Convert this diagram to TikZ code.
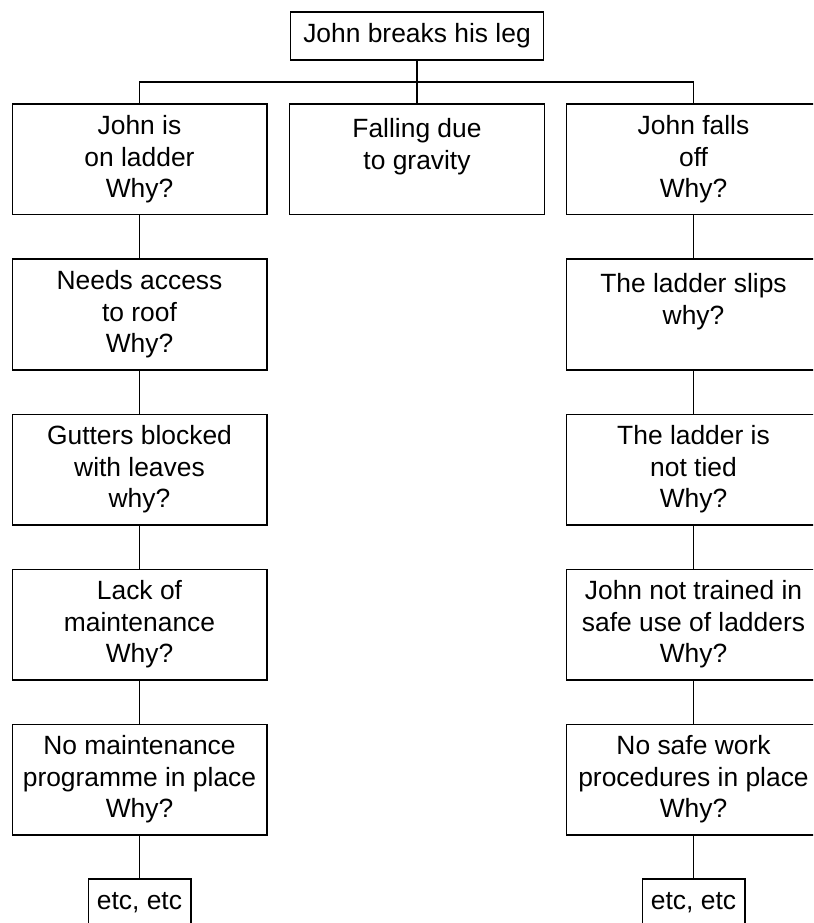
\documentclass[tikz,border=0pt]{standalone}
\usepackage{fontspec}
\setmainfont{Liberation Sans}
\usepackage{tikz}
\usetikzlibrary{positioning}

\tikzset{
  cause/.style={draw,line width=1pt,align=center,inner sep=0pt,
    minimum width=191pt,minimum height=83pt},
  headbox/.style={draw,line width=1pt,inner sep=0pt,
    minimum width=190pt,minimum height=36pt},
  etcbox/.style={draw,line width=1pt,inner sep=0pt,
    minimum width=77pt,minimum height=36pt},
  link/.style={line width=1pt}
}

\begin{document}
\begin{tikzpicture}[x=0.75pt,y=-0.75pt,font=\fontsize{19.8pt}{23.6pt}\selectfont]
  \useasboundingbox (0,0) rectangle (813,923); % 図全体の範囲
  \clip (0,0) rectangle (813,923); % 右端と下端ではみ出す箱を切る
  \node[headbox] (leg) at (417,36) {John breaks his leg}; % 一番上の出来事
  \coordinate (bus) at (417,82); % 横線の分岐点
  \node[cause] (ladder) at (139.5,159.5) {John is\\on ladder\\Why?}; % 左の列 1段目
  \node[cause] (gravity) at (417,159.5) {Falling due\\to gravity\\\mbox{}}; % 中央の箱
  \node[cause] (falls) at (693.5,159.5) {John falls\\off\\Why?}; % 右の列 1段目
  \node[cause] (roof) at (139.5,314.5) {Needs access\\to roof\\Why?}; % 左の列 2段目
  \node[cause] (gutters) at (139.5,469.5) {Gutters blocked\\with leaves\\why?}; % 左の列 3段目
  \node[cause] (lack) at (139.5,624.5) {Lack of\\maintenance\\Why?}; % 左の列 4段目
  \node[cause] (programme) at (139.5,779.5) {No maintenance\\programme in place\\Why?}; % 左の列 5段目
  \node[etcbox] (etcL) at (139.5,903) {etc, etc}; % 左の列の続き
  \node[cause] (slips) at (693.5,314.5) {The ladder slips\\why?\\\mbox{}}; % 右の列 2段目
  \node[cause] (tied) at (693.5,469.5) {The ladder is\\not tied\\Why?}; % 右の列 3段目
  \node[cause] (trained) at (693.5,624.5) {John not trained in\\safe use of ladders\\Why?}; % 右の列 4段目
  \node[cause] (procedures) at (693.5,779.5) {No safe work\\procedures in place\\Why?}; % 右の列 5段目
  \node[etcbox] (etcR) at (693.5,903) {etc, etc}; % 右の列の続き
  \draw[link] (leg) -- (bus); % 上の箱から分岐点へ
  \draw[link] (bus) -| (ladder); % 左の列へ
  \draw[link] (bus) -- (gravity); % 中央の箱へ
  \draw[link] (bus) -| (falls); % 右の列へ
  \draw[link] (ladder) -- (roof); % 左の列の縦線
  \draw[link] (roof) -- (gutters); % 左の列の縦線
  \draw[link] (gutters) -- (lack); % 左の列の縦線
  \draw[link] (lack) -- (programme); % 左の列の縦線
  \draw[link] (programme) -- (etcL); % 左の列の縦線
  \draw[link] (falls) -- (slips); % 右の列の縦線
  \draw[link] (slips) -- (tied); % 右の列の縦線
  \draw[link] (tied) -- (trained); % 右の列の縦線
  \draw[link] (trained) -- (procedures); % 右の列の縦線
  \draw[link] (procedures) -- (etcR); % 右の列の縦線
\end{tikzpicture}
\end{document}
